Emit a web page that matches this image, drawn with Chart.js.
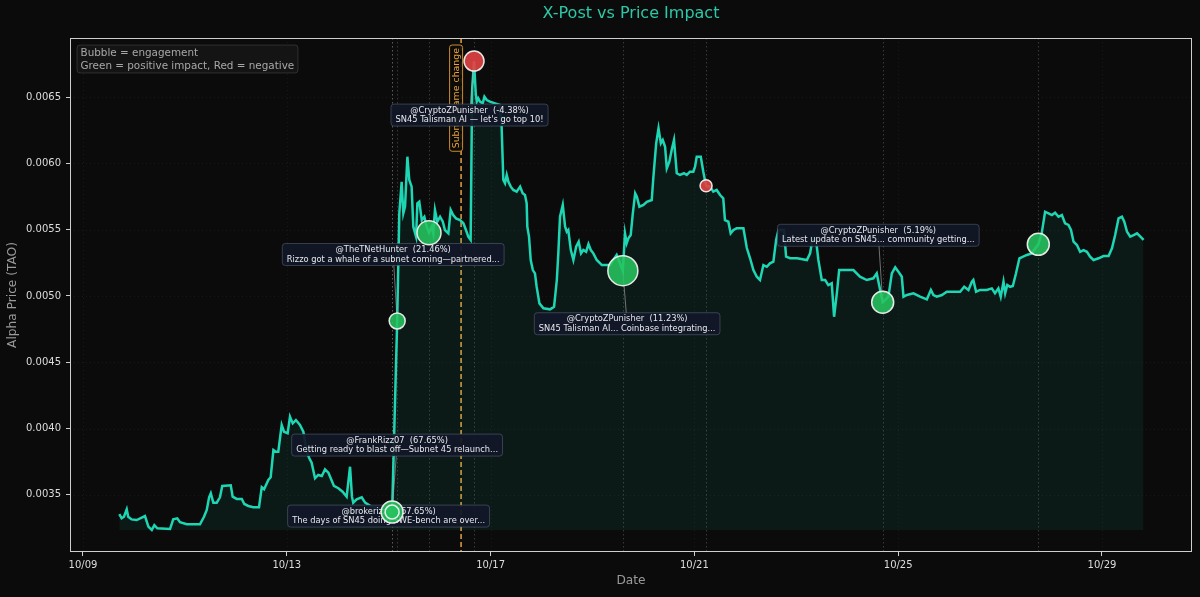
<!DOCTYPE html>
<html>
<head>
<meta charset="utf-8">
<script src="https://cdn.jsdelivr.net/npm/chart.js@4.4.1/dist/chart.umd.min.js"></script>
<style>
  html, body { margin:0; padding:0; background:#0b0b0b; }
  #wrap { width:1200px; height:597px; }
</style>
</head>
<body>
<div id="wrap"><canvas id="c" width="1200" height="597"></canvas></div>
<script>
// ---------- DATA ----------
// hours since 10/09 00:00
const priceHours = [
17.1,18.2,19.3,20.6,21.3,22.9,25.3,29.2,30.8,32.4,33.6,35.0,41.0,42.5,44.4,45.7,48.9,55.1,57.0,58.3,
59.4,60.2,61.4,63.0,64.5,65.6,69.6,70.5,72.4,74.8,76.0,77.9,80.2,82.9,84.2,85.3,87.3,88.4,89.7,90.9,
92.0,93.6,94.7,96.4,97.5,98.8,100.3,102.2,103.8,105.4,106.6,107.7,109.3,110.8,112.5,114.0,115.6,116.7,118.2,120.3,
122.3,124.2,125.8,126.7,127.3,128.9,131.3,132.9,136.0,139.9,144.6,145.6,148.0,149.0,150.1,150.9,151.7,152.8,153.7,154.8,
155.6,156.9,157.5,158.4,159.6,160.8,161.9,163.0,164.3,165.0,165.8,166.9,168.2,169.5,170.5,172.1,173.2,174.4,175.7,177.6,
179.2,180.4,181.5,182.6,183.3,184.2,185.0,185.5,186.2,187.0,188.3,189.1,190.2,191.7,194.1,196.4,197.2,198.0,198.8,199.6,
200.4,201.5,202.7,204.3,205.9,207.1,208.2,209.0,209.3,210.1,210.9,211.9,212.9,213.7,215.0,216.9,220.0,221.9,223.2,223.9,
224.7,226.0,227.1,227.9,228.6,229.8,231.0,232.3,233.5,234.6,235.7,237.0,238.1,239.2,240.4,242.0,244.4,248.3,249.8,251.4,
254.3,255.3,256.1,256.9,258.0,259.0,260.1,260.9,262.1,264.0,265.6,267.9,268.7,270.0,271.1,272.2,273.1,274.2,275.0,276.2,
277.3,278.4,279.7,281.2,283.1,284.4,285.9,287.5,288.3,289.1,291.0,292.2,293.5,295.4,296.9,298.5,300.1,301.6,302.4,304.0,
305.1,306.4,307.9,311.1,312.7,314.2,315.8,317.4,318.9,320.5,322.1,323.6,325.2,326.5,327.6,330.2,331.2,333.1,336.4,341.0,
342.5,343.7,345.3,346.4,348.0,349.6,351.1,352.7,353.8,355.1,356.2,362.9,366.0,369.2,372.3,373.9,375.5,376.7,379.4,381.0,
382.6,384.1,385.7,386.5,388.1,391.2,394.3,397.5,399.4,400.6,402.2,404.6,406.9,413.2,415.1,417.1,418.7,419.4,420.7,422.6,
425.7,428.1,429.6,431.2,432.3,433.6,434.4,435.4,436.7,438.0,439.5,441.1,444.6,446.9,450.0,451.6,453.2,454.8,456.4,457.9,
459.5,461.1,462.6,464.2,465.4,466.6,468.2,469.7,471.3,472.9,474.4,476.0,478.4,480.7,483.1,484.7,486.2,487.8,489.4,490.5,
491.8,493.3,494.9,496.5,498.1,499.6
];
const priceValues = [
0.003355,0.003323,0.003335,0.003391,0.003335,0.003315,0.003310,0.003340,0.003260,0.003235,0.003272,0.003248,0.003242,0.003315,0.003323,0.003293,0.003278,0.003278,0.003335,0.003386,
0.003481,0.003511,0.003441,0.003441,0.003481,0.003567,0.003572,0.003486,0.003469,0.003469,0.003431,0.003416,0.003406,0.003406,0.003557,0.003542,0.003612,0.003632,0.003838,0.003825,
0.003825,0.004027,0.003976,0.003964,0.004089,0.004039,0.004064,0.004027,0.003976,0.003825,0.003776,0.003742,0.003625,0.003650,0.003642,0.003692,0.003667,0.003625,0.003567,0.003550,
0.003524,0.003486,0.003712,0.003486,0.003441,0.003466,0.003481,0.003441,0.003410,0.003398,0.003380,0.003370,0.004811,0.005623,0.005861,0.005623,0.005673,0.006050,0.005874,0.005824,
0.005522,0.005447,0.005698,0.005710,0.005572,0.005597,0.005522,0.005477,0.005522,0.005472,0.005648,0.005560,0.005597,0.005560,0.005497,0.005472,0.005648,0.005610,0.005585,0.005572,
0.005548,0.005497,0.005447,0.005422,0.006553,0.006771,0.006528,0.006465,0.006490,0.006465,0.006452,0.006502,0.006477,0.006465,0.006452,0.006440,0.006276,0.005874,0.005849,0.005912,
0.005861,0.005824,0.005799,0.005786,0.005824,0.005774,0.005761,0.005698,0.005522,0.005447,0.005271,0.005195,0.005170,0.005069,0.004944,0.004907,0.004899,0.004919,0.005120,0.005321,
0.005597,0.005686,0.005522,0.005484,0.005497,0.005346,0.005271,0.005371,0.005409,0.005321,0.005346,0.005333,0.005391,0.005346,0.005321,0.005271,0.005233,0.005233,0.005271,0.005309,
0.005190,0.005472,0.005397,0.005434,0.005459,0.005623,0.005774,0.005748,0.005673,0.005686,0.005710,0.005723,0.005899,0.006151,0.006264,0.006151,0.006176,0.006125,0.005962,0.006012,
0.006100,0.006176,0.005925,0.005912,0.005925,0.005912,0.005937,0.005937,0.005974,0.006050,0.006050,0.005937,0.005831,0.005824,0.005786,0.005799,0.005761,0.005736,0.005572,0.005560,
0.005472,0.005497,0.005510,0.005510,0.005361,0.005286,0.005195,0.005145,0.005120,0.005233,0.005220,0.005246,0.005258,0.005422,0.005497,0.005497,0.005296,0.005284,0.005284,0.005271,
0.005321,0.005437,0.005422,0.005271,0.005120,0.005120,0.005082,0.005095,0.004843,0.005020,0.005195,0.005195,0.005145,0.005120,0.005133,0.005170,0.005045,0.004952,0.004994,0.005170,
0.005216,0.005183,0.005145,0.004994,0.005007,0.005020,0.004994,0.004974,0.005045,0.005007,0.004994,0.005007,0.005032,0.005032,0.005069,0.005045,0.005107,0.005120,0.005032,0.005045,
0.005045,0.005057,0.005020,0.005057,0.004994,0.005107,0.005020,0.005082,0.005069,0.005075,0.005171,0.005284,0.005309,0.005321,0.005389,0.005472,0.005635,0.005623,0.005610,0.005627,
0.005597,0.005610,0.005548,0.005535,0.005497,0.005409,0.005384,0.005333,0.005346,0.005333,0.005296,0.005271,0.005284,0.005301,0.005301,0.005359,0.005459,0.005585,0.005597,0.005560,
0.005484,0.005447,0.005459,0.005472,0.005447,0.005422
];

// X posts
const postHours      = [145.6, 145.6, 148.0, 163.0, 184.2, 254.3, 293.5, 376.7, 450.0];
const postPrices     = [0.00337, 0.00337, 0.004811, 0.005477, 0.006771, 0.00519, 0.005831, 0.004952, 0.005389];
const postEngagement = [484, 196, 256, 576, 400, 900, 144, 484, 484];
const postDirection  = [1, 1, 1, 1, -1, 1, -1, 1, 1];
const postImpact     = [67.65, 67.65, 21.46, null, -4.38, 11.23, null, 5.19, null];
const postAuthors    = ["@brokerizzo", "@FrankRizz07", "@TheTNetHunter", null, "@CryptoZPunisher", "@CryptoZPunisher", null, "@CryptoZPunisher", null];
const postTexts      = [
  "The days of SN45 doing SWE-bench are over...",
  "Getting ready to blast off\u2014Subnet 45 relaunch...",
  "Rizzo got a whale of a subnet coming\u2014partnered...",
  null,
  "SN45 Talisman AI \u2014 let's go top 10!",
  "SN45 Talisman AI... Coinbase integrating...",
  null,
  "Latest update on SN45... community getting...",
  null
];

const eventHours = [178.1];
const eventLabels = ["Subnet name change"];

const xTickHours  = [0, 96, 192, 288, 384, 480];
const xTickLabels = ["10/09", "10/13", "10/17", "10/21", "10/25", "10/29"];
const yTickValues = [0.0035, 0.0040, 0.0045, 0.0050, 0.0055, 0.0060, 0.0065];

// ---------- STYLE (label offsets in px from bubble) ----------
const labelOffsets = [[-3.5,4],[5,-67],[-4,-66.5],null,[-4.5,54],[4.3,53],null,[-4.4,-67],null];

const FONT = "DejaVu Sans";
Chart.defaults.font.family = FONT;

const linePts = priceHours.map((h,i)=>({x:h, y:priceValues[i]}));
const bubblePts = postHours.map((h,i)=>({x:h, y:postPrices[i], r:Math.sqrt(postEngagement[i])/2}));
const fillBase = Math.min(...priceValues);

function roundRect(ctx,x,y,w,h,r){
  ctx.beginPath();
  ctx.moveTo(x+r,y); ctx.lineTo(x+w-r,y); ctx.quadraticCurveTo(x+w,y,x+w,y+r);
  ctx.lineTo(x+w,y+h-r); ctx.quadraticCurveTo(x+w,y+h,x+w-r,y+h);
  ctx.lineTo(x+r,y+h); ctx.quadraticCurveTo(x,y+h,x,y+h-r);
  ctx.lineTo(x,y+r); ctx.quadraticCurveTo(x,y,x+r,y); ctx.closePath();
}

const overlay = {
  id:'overlay',
  beforeDraw(chart){
    const ctx=chart.ctx; ctx.save(); ctx.fillStyle='#0b0b0b'; ctx.fillRect(0,0,chart.width,chart.height); ctx.restore();
  },
  beforeDatasetsDraw(chart){
    const ctx=chart.ctx, a=chart.chartArea, xs=chart.scales.x, ys=chart.scales.y;
    ctx.save();
    ctx.strokeStyle='rgba(255,255,255,0.07)'; ctx.lineWidth=0.8; ctx.setLineDash([1,3]);
    xTickHours.forEach(h=>{const px=Math.round(xs.getPixelForValue(h))+0.5; ctx.beginPath(); ctx.moveTo(px,a.top); ctx.lineTo(px,a.bottom); ctx.stroke();});
    yTickValues.forEach(v=>{const py=Math.round(ys.getPixelForValue(v))+0.5; ctx.beginPath(); ctx.moveTo(a.left,py); ctx.lineTo(a.right,py); ctx.stroke();});
    ctx.strokeStyle='rgba(200,200,200,0.28)'; ctx.lineWidth=0.9; ctx.setLineDash([1.5,2.5]);
    postHours.forEach(h=>{const px=Math.round(xs.getPixelForValue(h))+0.5; ctx.beginPath(); ctx.moveTo(px,a.top); ctx.lineTo(px,a.bottom); ctx.stroke();});
    ctx.strokeStyle='#e6a23c'; ctx.lineWidth=1.5; ctx.setLineDash([5,3]);
    eventHours.forEach(h=>{const px=xs.getPixelForValue(h); ctx.beginPath(); ctx.moveTo(px,a.top); ctx.lineTo(px,a.bottom); ctx.stroke();});
    ctx.restore();
  },
  beforeDatasetDraw(chart,args){
    if(args.index!==1) return;
    const ctx=chart.ctx, a=chart.chartArea, xs=chart.scales.x, ys=chart.scales.y;
    ctx.save();
    eventHours.forEach((h,i)=>{
      const px=xs.getPixelForValue(h)-5;
      ctx.font='9.4px '+FONT;
      const tw=ctx.measureText(eventLabels[i]).width;
      const bw=13, bh=tw+6, top=a.top+7;
      roundRect(ctx,px-bw/2,top,bw,bh,2.5);
      ctx.fillStyle='rgba(12,11,8,0.9)'; ctx.fill();
      ctx.strokeStyle='#c98a2e'; ctx.lineWidth=1; ctx.setLineDash([]); ctx.stroke();
      ctx.save(); ctx.translate(px, top+bh/2); ctx.rotate(-Math.PI/2);
      ctx.fillStyle='#eaa33d'; ctx.textAlign='center'; ctx.textBaseline='middle';
      ctx.fillText(eventLabels[i],0,0.5); ctx.restore();
    });
    ctx.strokeStyle='rgba(170,170,170,0.7)'; ctx.lineWidth=0.9; ctx.setLineDash([]);
    postHours.forEach((h,i)=>{
      if(!postAuthors[i]) return;
      const bx=xs.getPixelForValue(h), by=ys.getPixelForValue(postPrices[i]);
      const [dx,dy]=labelOffsets[i];
      ctx.beginPath(); ctx.moveTo(bx+dx,by+dy); ctx.lineTo(bx,by); ctx.stroke();
    });
    ctx.font='8.3px '+FONT;
    postHours.forEach((h,i)=>{
      if(!postAuthors[i]) return;
      const bx=xs.getPixelForValue(h), by=ys.getPixelForValue(postPrices[i]);
      const [dx,dy]=labelOffsets[i];
      const cx=bx+dx, cy=by+dy;
      const l1=postAuthors[i]+'  ('+postImpact[i].toFixed(2)+'%)';
      const l2=postTexts[i];
      const w=Math.max(ctx.measureText(l1).width, ctx.measureText(l2).width)+9;
      const hgt=22;
      roundRect(ctx,cx-w/2,cy-hgt/2,w,hgt,3);
      ctx.fillStyle='rgba(18,24,40,0.93)'; ctx.fill();
      ctx.strokeStyle='rgba(95,110,135,0.55)'; ctx.lineWidth=0.9; ctx.stroke();
      ctx.fillStyle='#e6e8ee'; ctx.textAlign='center'; ctx.textBaseline='middle';
      ctx.fillText(l1,cx,cy-4.5);
      ctx.fillText(l2,cx,cy+5);
    });
    ctx.restore();
  },
  afterDraw(chart){
    const ctx=chart.ctx, a=chart.chartArea;
    ctx.save();
    ctx.strokeStyle='#cfcfcf'; ctx.lineWidth=1; ctx.setLineDash([]);
    ctx.strokeRect(Math.round(a.left)+0.5, Math.round(a.top)+0.5, Math.round(a.right-a.left)-1, Math.round(a.bottom-a.top)-1);
    ctx.fillStyle='#2cc9a8'; ctx.font='16px '+FONT; ctx.textAlign='center'; ctx.textBaseline='middle';
    ctx.fillText('X-Post vs Price Impact',(a.left+a.right)/2,14);
    ctx.fillStyle='#9a9a9a'; ctx.font='12.2px '+FONT;
    ctx.fillText('Date',(a.left+a.right)/2,581);
    ctx.save(); ctx.translate(13,(a.top+a.bottom)/2); ctx.rotate(-Math.PI/2); ctx.fillText('Alpha Price (TAO)',0,0); ctx.restore();
    const lx=a.left+7, ly=a.top+7;
    roundRect(ctx,lx,ly,221,28,3);
    ctx.fillStyle='rgba(22,22,22,0.85)'; ctx.fill();
    ctx.strokeStyle='rgba(255,255,255,0.13)'; ctx.lineWidth=1; ctx.stroke();
    ctx.fillStyle='#a8a8a8'; ctx.font='10.4px '+FONT; ctx.textAlign='left';
    ctx.fillText('Bubble = engagement',lx+3.5,ly+8.5);
    ctx.fillText('Green = positive impact, Red = negative',lx+3.5,ly+21);
    ctx.restore();
  }
};

new Chart(document.getElementById('c'), {
  data:{
    datasets:[
      {
        type:'line', data:linePts, order:1,
        borderColor:'#1ed6b3', borderWidth:2.5, pointRadius:0, tension:0,
        fill:{value:fillBase}, backgroundColor:'rgba(30,214,180,0.075)'
      },
      {
        type:'bubble', data:bubblePts, order:0,
        backgroundColor: postDirection.map(d=> d>0 ? 'rgba(38,196,96,0.88)' : 'rgba(226,66,66,0.9)'),
        borderColor:'rgba(240,240,240,0.95)', borderWidth:1.5, hoverRadius:0
      }
    ]
  },
  options:{
    responsive:false, animation:false, events:[],
    layout:{autoPadding:false, padding:{left:0,right:8,top:38,bottom:0}},
    plugins:{legend:{display:false}, tooltip:{enabled:false}, title:{display:false}},
    scales:{
      x:{
        type:'linear', min:-6.12, max:522.4,
        afterBuildTicks:s=>{s.ticks=xTickHours.map(v=>({value:v}));},
        afterFit:s=>{s.height=45; s.paddingLeft=0; s.paddingRight=0;},
        ticks:{callback:(v,i)=>xTickLabels[i], color:'#dcdcdc', font:{size:10}, padding:3, maxRotation:0, autoSkip:false},
        grid:{drawOnChartArea:false, drawTicks:true, tickLength:4, tickColor:'#cfcfcf', tickWidth:1},
        border:{display:false}
      },
      y:{
        type:'linear', min:0.003069, max:0.006945,
        afterBuildTicks:s=>{s.ticks=yTickValues.map(v=>({value:v}));},
        afterFit:s=>{s.width=70; s.paddingTop=0; s.paddingBottom=0;},
        ticks:{callback:v=>v.toFixed(4), color:'#dcdcdc', font:{size:10}, padding:5, autoSkip:false},
        grid:{drawOnChartArea:false, drawTicks:true, tickLength:4, tickColor:'#cfcfcf', tickWidth:1},
        border:{display:false}
      }
    }
  },
  plugins:[overlay]
});
</script>
</body>
</html>
